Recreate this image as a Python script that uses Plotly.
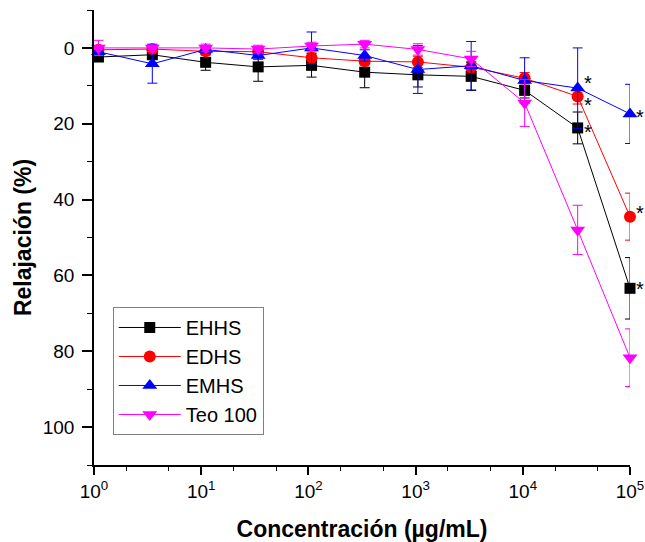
import math
import plotly.graph_objects as go

# ---- data ----
conc = [1.1, 3.5, 11, 34, 107, 335, 1050, 3300, 10400, 32500, 100000]

ehhs = [2.4, 1.8, 3.8, 5.0, 4.6, 6.4, 7.1, 7.5, 11.2, 21.1, 63.4]
ehhs_err = [1.0, 1.0, 2.1, 3.8, 3.1, 4.1, 3.2, 3.7, 2.0, 4.2, 8.1]

edhs = [0.5, 0.3, 0.9, 1.0, 2.6, 3.5, 3.7, 5.1, 8.0, 12.8, 44.5]
edhs_err = [0.5, 0.5, 1.0, 1.0, 1.5, 1.0, 1.5, 1.5, 1.5, 2.0, 6.2]

emhs = [1.0, 4.2, 0.4, 2.0, 0.0, 2.0, 5.7, 4.7, 8.6, 10.6, 17.4]
emhs_err = [1.0, 5.1, 1.0, 1.0, 4.2, 1.5, 6.3, 6.4, 6.0, 10.6, 7.8]

teo = [0.0, 0.0, 0.0, 0.3, -0.5, -1.0, 0.4, 2.9, 14.5, 48.0, 81.7]
teo_err = [2.0, 1.0, 1.0, 1.0, 1.0, 1.0, 1.5, 2.0, 6.2, 6.5, 7.6]

series_names = ["EHHS", "EDHS", "EMHS", "Teo 100"]
y_ticks = [0, 20, 40, 60, 80, 100]
x_tick_exps = [0, 1, 2, 3, 4, 5]

# indices of points marked as significant (*)
sig_points = {"EHHS": [9, 10], "EDHS": [9, 10], "EMHS": [9, 10]}

# ---- styles ----
FONT = "Arial, Liberation Sans, sans-serif"
styles = {
    "EHHS": dict(color="#000000", symbol="square", size=11),
    "EDHS": dict(color="#FF0000", symbol="circle", size=12),
    "EMHS": dict(color="#0000FF", symbol="triangle-up", size=13),
    "Teo 100": dict(color="#FF00FF", symbol="triangle-down", size=13),
}
star_shift = {
    ("EHHS", 9): -4, ("EHHS", 10): -1,
    ("EDHS", 9): -9, ("EDHS", 10): 4,
    ("EMHS", 9): 5, ("EMHS", 10): -3,
}

values = {"EHHS": (ehhs, ehhs_err), "EDHS": (edhs, edhs_err),
          "EMHS": (emhs, emhs_err), "Teo 100": (teo, teo_err)}

fig = go.Figure()
for name in series_names:
    y, e = values[name]
    st = styles[name]
    fig.add_trace(go.Scatter(
        x=conc, y=y, name=name, mode="lines+markers",
        line=dict(color=st["color"], width=1),
        marker=dict(symbol=st["symbol"], size=st["size"], color=st["color"],
                    line=dict(width=0)),
        error_y=dict(type="data", array=e, visible=True, color=st["color"],
                     thickness=1, width=5),
        cliponaxis=False,
    ))

annotations = []
for name, idxs in sig_points.items():
    y, _ = values[name]
    for i in idxs:
        annotations.append(dict(
            x=math.log10(conc[i]), y=y[i], xref="x", yref="y",
            text="*", showarrow=False,
            xanchor="left", yanchor="middle", xshift=4,
            yshift=star_shift[(name, i)],
            font=dict(family=FONT, size=20, color="black"),
        ))

fig.update_layout(
    width=645, height=542,
    margin=dict(l=94, r=15, t=10, b=77, autoexpand=False),
    paper_bgcolor="white", plot_bgcolor="white",
    font=dict(family=FONT, color="black"),
    showlegend=True,
    legend=dict(
        x=0.035, y=0.066, xanchor="left", yanchor="bottom",
        bordercolor="#808080", borderwidth=1, bgcolor="white",
        font=dict(family=FONT, size=20, color="black"),
        itemwidth=62, tracegroupgap=0,
    ),
    annotations=annotations,
)

fig.update_xaxes(
    type="log", range=[0, 5],
    tickvals=[10 ** k for k in x_tick_exps],
    ticktext=["10<sup>%d</sup>" % k for k in x_tick_exps],
    ticks="outside", ticklen=8, tickwidth=1.5, tickcolor="black",
    minor=dict(ticks="outside", ticklen=4, tickwidth=1.2, tickcolor="black",
               showgrid=False),
    showline=True, linecolor="black", linewidth=1.5,
    showgrid=False, zeroline=False, automargin=False,
    tickfont=dict(family=FONT, size=19, color="black"),
    title=dict(text="<b>Concentración (µg/mL)</b>", standoff=22,
               font=dict(family=FONT, size=23, color="black")),
)

fig.update_yaxes(
    range=[110, -10],
    tickvals=y_ticks,
    ticks="outside", ticklen=10, tickwidth=1.5, tickcolor="black",
    minor=dict(ticks="outside", ticklen=5, tickwidth=1.2, tickcolor="black",
               dtick=10, tick0=0, showgrid=False),
    showline=True, linecolor="black", linewidth=1.5,
    showgrid=False, zeroline=False, automargin=False,
    tickfont=dict(family=FONT, size=19, color="black"),
    ticklabelstandoff=4,
    title=dict(text="<b>Relajación (%)</b>", standoff=5,
               font=dict(family=FONT, size=23, color="black")),
)

fig.write_html(
    "out.html",
    config={"displayModeBar": False},
    post_script="document.body.style.margin='0';document.body.style.overflow='hidden';",
)
